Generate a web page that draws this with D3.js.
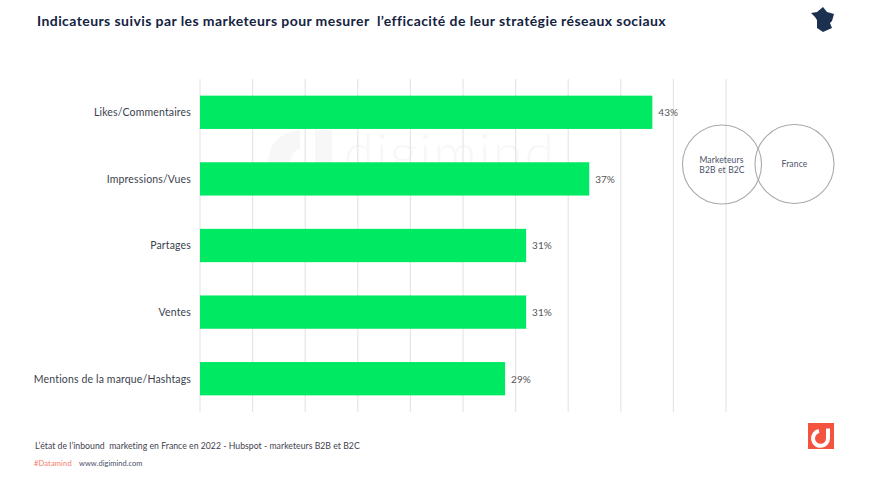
<!DOCTYPE html>
<html><head><meta charset="utf-8">
<script src="https://cdnjs.cloudflare.com/ajax/libs/d3/7.8.5/d3.min.js"></script>
<style>html,body{margin:0;padding:0;background:#fff}svg{display:block}text{font-family:Lato,"Open Sans",sans-serif}</style>
</head><body><svg id="c" width="880" height="477"></svg>
<script>
const categories = ["Likes/Commentaires","Impressions/Vues","Partages","Ventes","Mentions de la marque/Hashtags"];
const values = [43,37,31,31,29];
const ticks = [0,5,10,15,20,25,30,35,40,45,50];
const titleText = "Indicateurs suivis par les marketeurs pour mesurer\u00a0 l\u2019efficacité de leur stratégie réseaux sociaux";
const sourceText = "L\u2019état de l\u2019inbound\u00a0 marketing en France en 2022 - Hubspot - marketeurs B2B et B2C";
const vennLabels = [["Marketeurs","B2B et B2C"],["France"]];

const svg = d3.select("#c");
const x = d3.scaleLinear().domain([0,50]).range([200,726]);
const y = d3.scaleBand().domain(categories).range([79,412]).paddingInner(0.5).paddingOuter(0.25);

// watermark
const wm = svg.append("g").attr("fill","#f7f7f7");
wm.append("text").attr("x",344).attr("y",172).attr("font-size",54).style("font-family","Lato").style("font-weight",300).attr("letter-spacing",2).text("digimind");
wm.append("path").attr("d","M300 130q-32 4-32 35h22q0-14 10-16z");
wm.append("rect").attr("x",315).attr("y",130).attr("width",17).attr("height",40);

// grid
svg.append("g").attr("stroke","#e6e6e6").attr("stroke-width",1.2)
 .selectAll("line").data(ticks).join("line")
 .attr("x1",d=>x(d)).attr("x2",d=>x(d)).attr("y1",79).attr("y2",412);

// bars
svg.append("g").selectAll("rect").data(categories).join("rect")
 .attr("x",x(0)).attr("y",d=>y(d)).attr("height",y.bandwidth())
 .attr("width",(d,i)=>x(values[i])-x(0)).attr("fill","#00e963");

// category labels
svg.append("g").selectAll("text").data(categories).join("text")
 .attr("x",191).attr("y",d=>y(d)+y.bandwidth()/2+3.8).attr("text-anchor","end")
 .attr("font-size",10.5).attr("letter-spacing",0.15).attr("fill","#3a3f4d").text(d=>d);

// value labels
svg.append("g").selectAll("text").data(categories).join("text")
 .attr("x",(d,i)=>x(values[i])+6).attr("y",d=>y(d)+y.bandwidth()/2+3.8)
 .attr("font-size",10).attr("letter-spacing",0).attr("fill","#555").text((d,i)=>values[i]+"%");

// title
svg.append("text").attr("x",37).attr("y",26).attr("font-size",14).style("font-weight",700)
 .attr("letter-spacing",0.42).attr("fill","#14233f").text(titleText);

// venn
const venn = [{cx:722,cy:164.5},{cx:794.5,cy:164}];
svg.append("g").attr("fill","none").attr("stroke","#a9a9a9").attr("stroke-width",1.1)
 .selectAll("circle").data(venn).join("circle")
 .attr("cx",d=>d.cx).attr("cy",d=>d.cy).attr("r",39.5);
svg.append("g").attr("font-size",8.5).attr("fill","#4a5068").attr("text-anchor","middle").attr("letter-spacing",0.15)
 .selectAll("text").data([{l:vennLabels[0][0],x:721.5,y:163},{l:vennLabels[0][1],x:722,y:172.5},{l:vennLabels[1][0],x:794.5,y:167}]).join("text")
 .attr("x",d=>d.x).attr("y",d=>d.y).text(d=>d.l);

// footer
svg.append("text").attr("x",35).attr("y",449).attr("font-size",8.7).attr("letter-spacing",0.02).attr("fill","#3f4350").text(sourceText);
svg.append("text").attr("x",34).attr("y",466).attr("font-size",7.5).attr("letter-spacing",0.15).attr("fill","#f57a6c").text("#Datamind");
svg.append("text").attr("x",79).attr("y",466).attr("font-size",7.5).attr("letter-spacing",0.03).attr("fill","#4a5068").text("www.digimind.com");

// France pictogram
svg.append("path").attr("fill","#1c3150")
 .attr("d","M811 13L817 12L823 7L827 12L834 14L832 21L830 23L832 28L823 32L817 28L817 20L815 17Z");

// logo
svg.append("rect").attr("x",808).attr("y",423).attr("width",26).attr("height",26).attr("fill","#f4533f");
svg.append("path").attr("fill","none").attr("stroke","#fff").attr("stroke-width",4)
 .attr("d","M819 431a7.5 7.5 0 1 0 9 7.5v-10");
</script></body></html>
